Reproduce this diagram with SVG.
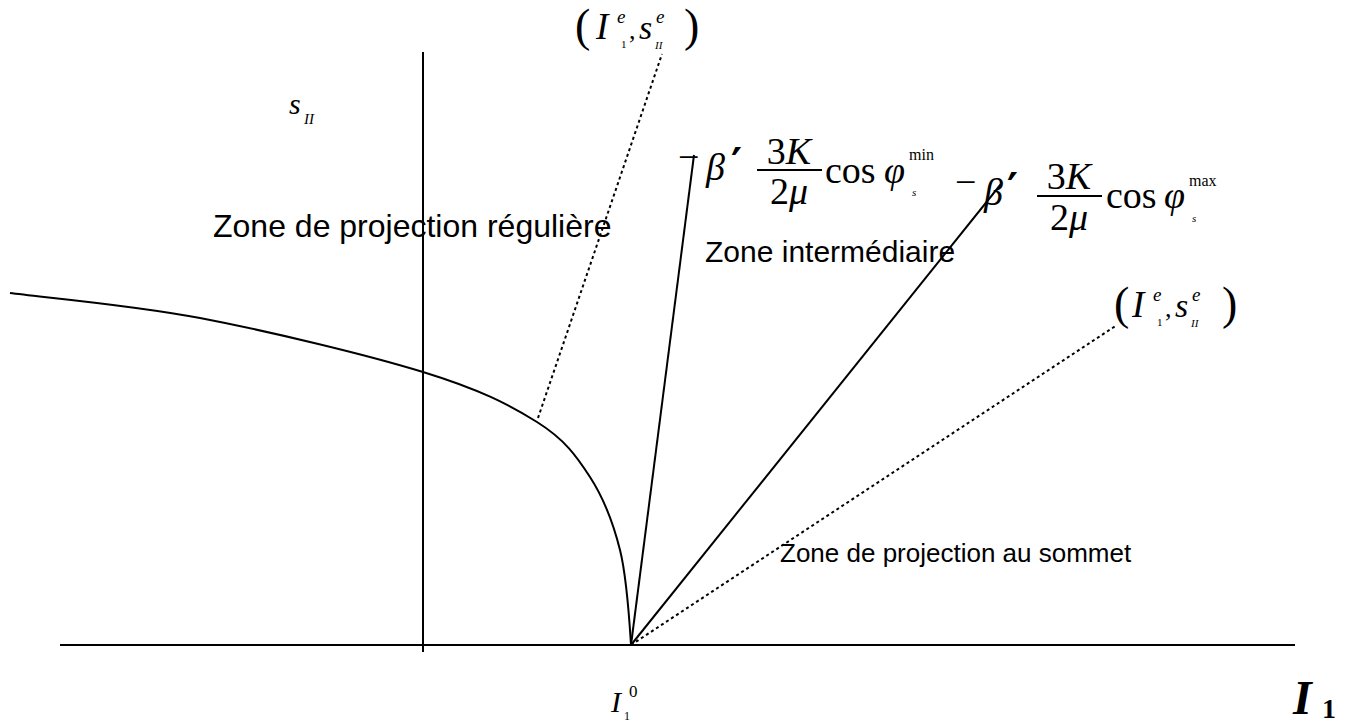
<svg xmlns="http://www.w3.org/2000/svg" width="1351" height="722" viewBox="0 0 1351 722">
<style>
.ln{stroke:#000;stroke-width:2;fill:none}
.dot{stroke:#000;stroke-width:2;fill:none;stroke-dasharray:3 3}
.zone{font-family:"Liberation Sans",Arial,sans-serif;fill:#000}
.m{font-family:"Liberation Serif","Times New Roman",serif;fill:#000}
.f{font-family:"Liberation Serif","Times New Roman",serif;fill:#000;font-size:38px}
.it{font-style:italic}
.pr{font-family:"DejaVu Sans","Liberation Sans",sans-serif;font-weight:bold;font-size:42px;fill:#000}
</style>
<rect width="1351" height="722" fill="#fff"/>
<g id="connectors">
<line class="ln" x1="60" y1="645" x2="1295" y2="645"/>
<line class="ln" x1="423" y1="52" x2="423" y2="652"/>
<path class="ln" d="M10,293 C41.7,297.2 131.2,304.8 200,318 C268.8,331.2 366.8,354.7 423,372 C479.2,389.3 509.2,404.5 537,422 C564.8,439.5 576.2,455.7 590,477 C603.8,498.3 613,522 620,550 C627,578 630,629.2 631,645"/>
<line class="dot" x1="538" y1="418" x2="662" y2="54"/>
<line class="ln" x1="631" y1="645" x2="694" y2="155"/>
<line class="ln" x1="631" y1="645" x2="1001" y2="184"/>
<line class="dot" x1="631" y1="645" x2="1117" y2="325"/>
</g>
<g id="label-top">
<text class="m" x="575" y="41" font-size="46">(</text>
<text class="m it" x="596" y="39" font-size="37">I</text>
<text class="m it" x="617" y="23" font-size="19">e</text>
<text class="m" x="621" y="48" font-size="11">1</text>
<text class="m" x="629" y="39" font-size="26">,</text>
<text class="m it" x="639" y="39" font-size="34">s</text>
<text class="m it" x="656" y="23" font-size="19">e</text>
<text class="m it" x="655" y="49" font-size="11">II</text>
<text class="m" x="684" y="41" font-size="46">)</text>
</g>
<g id="label-sII">
<text class="m it" x="289" y="114" font-size="30">s</text>
<text class="m it" x="304" y="124" font-size="15">II</text>
</g>
<g id="zone-reg"><text class="zone" x="213" y="237" font-size="32">Zone de projection régulière</text></g>
<g id="zone-int"><text class="zone" x="705" y="262" font-size="30">Zone intermédiaire</text></g>
<g id="zone-som"><text class="zone" x="780" y="562" font-size="26">Zone de projection au sommet</text></g>
<g id="formula-min">
<text class="f" x="678" y="170">−</text>
<text class="f it" x="706" y="180">β</text>
<text class="pr" x="731" y="178">′</text>
<text class="f" x="789" y="164" text-anchor="middle"><tspan>3</tspan><tspan class="it">K</tspan></text>
<line x1="757" y1="170" x2="822" y2="170" stroke="#000" stroke-width="2"/>
<text class="f" x="789" y="204" text-anchor="middle"><tspan>2</tspan><tspan class="it">μ</tspan></text>
<text class="f" x="825" y="183">cos</text>
<text class="f it" x="884" y="183">φ</text>
<text class="m" x="909" y="160" font-size="16">min</text>
<text class="m it" x="912" y="196" font-size="11">s</text>
</g>
<g id="formula-max">
<text class="f" x="955" y="195">−</text>
<text class="f it" x="984" y="205">β</text>
<text class="pr" x="1007" y="203">′</text>
<text class="f" x="1069" y="189" text-anchor="middle"><tspan>3</tspan><tspan class="it">K</tspan></text>
<line x1="1037" y1="196" x2="1102" y2="196" stroke="#000" stroke-width="2"/>
<text class="f" x="1069" y="230" text-anchor="middle"><tspan>2</tspan><tspan class="it">μ</tspan></text>
<text class="f" x="1106" y="208">cos</text>
<text class="f it" x="1164" y="208">φ</text>
<text class="m" x="1189" y="186" font-size="16">max</text>
<text class="m it" x="1192" y="222" font-size="11">s</text>
</g>
<g id="label-right">
<text class="m" x="1114" y="319" font-size="46">(</text>
<text class="m it" x="1132" y="317" font-size="37">I</text>
<text class="m it" x="1153" y="301" font-size="19">e</text>
<text class="m" x="1157" y="326" font-size="11">1</text>
<text class="m" x="1165" y="317" font-size="26">,</text>
<text class="m it" x="1175" y="317" font-size="34">s</text>
<text class="m it" x="1192" y="301" font-size="19">e</text>
<text class="m it" x="1191" y="327" font-size="11">II</text>
<text class="m" x="1222" y="319" font-size="46">)</text>
</g>
<g id="label-I10">
<text class="m it" x="611" y="712" font-size="30">I</text>
<text class="m" x="629" y="697" font-size="17">0</text>
<text class="m" x="624" y="720" font-size="12">1</text>
</g>
<g id="label-I1">
<text class="m it" x="1293" y="714" font-size="48" font-weight="bold">I</text>
<text class="m" x="1322" y="718" font-size="28" font-weight="bold">1</text>
</g>
</svg>
